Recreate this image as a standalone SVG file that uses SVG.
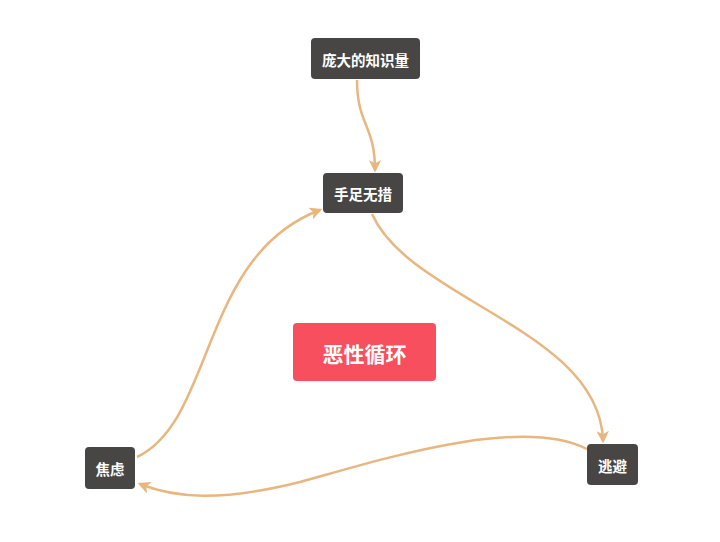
<svg xmlns="http://www.w3.org/2000/svg" width="720" height="542" viewBox="0 0 720 542">
<style>
.node rect{fill:#474644;}
.node text{fill:#ffffff;font-family:"Noto Sans CJK SC","Noto Sans",sans-serif;font-weight:bold;font-size:14.5px;text-anchor:middle;dominant-baseline:central;}
.conn path{fill:none;stroke:#e8b67e;stroke-width:2.5;marker-end:url(#arr);}
</style>
<defs>
<marker id="arr" viewBox="0 0 10 10" refX="8" refY="5" markerWidth="5" markerHeight="5" orient="auto" markerUnits="strokeWidth">
<path d="M0,0 L10,5 L0,10 L2.5,5 Z" fill="#e8b67e"/>
</marker>
</defs>
<rect width="720" height="542" fill="#ffffff"/>
<g class="conn">
<path d="M357,80 C357,125 375,125 375,170"/>
<path d="M372,214 C410,300 600,330 603,441"/>
<path d="M587,449 C520,415 380,460 300,482 C220,502 175,498 140,484"/>
<path d="M137,457 C215,420 200,255 320,210"/>
</g>
<g id="n1" class="node"><rect x="311" y="38" width="109" height="41" rx="4"/><text x="365.5" y="59.5">庞大的知识量</text></g>
<g id="n2" class="node"><rect x="323" y="173" width="80" height="40" rx="4"/><text x="363" y="193.5">手足无措</text></g>
<g id="n3" class="node"><rect x="85" y="447" width="50" height="42" rx="4"/><text x="110" y="468.5">焦虑</text></g>
<g id="n4" class="node"><rect x="587" y="444" width="51" height="41" rx="4"/><text x="612.5" y="465">逃避</text></g>
<g id="center"><rect x="293" y="323" width="143" height="58" rx="4" fill="#f74f5e"/><text x="364.5" y="352.5" fill="#ffffff" font-family="Noto Sans CJK SC,Noto Sans,sans-serif" font-weight="bold" font-size="21" text-anchor="middle" dominant-baseline="central">恶性循环</text></g>
</svg>
